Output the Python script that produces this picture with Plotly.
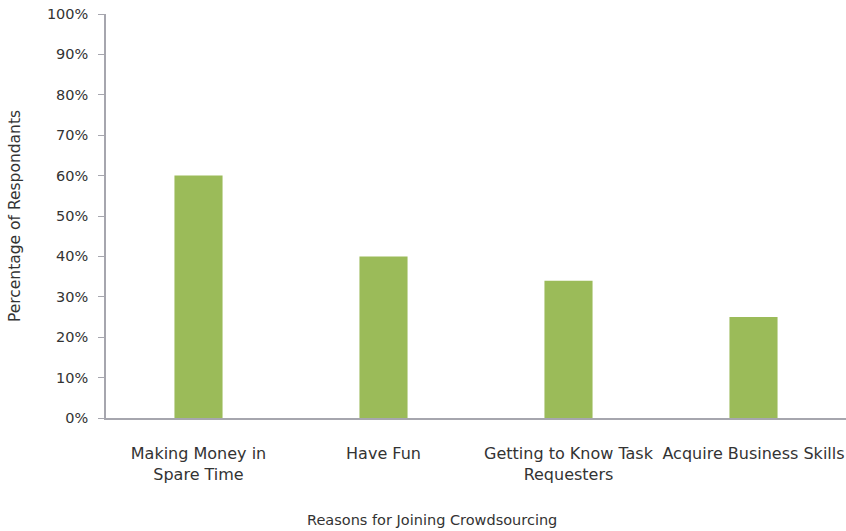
import plotly.graph_objects as go

categories = ["Making Money in<br>Spare Time", "Have Fun", "Getting to Know Task<br>Requesters", "Acquire Business Skills"]
values = [60, 40, 34, 25]
y_ticks = list(range(0, 101, 10))
y_tick_labels = [f"{v}%" for v in y_ticks]
x_title = "Reasons for Joining Crowdsourcing"
y_title = "Percentage of Respondants"

font_family = "DejaVu Sans, sans-serif"

fig = go.Figure(go.Bar(x=categories, y=values, marker=dict(color="#9BBB59", line=dict(width=0)), width=0.26))

fig.update_layout(
    width=846, height=531,
    margin=dict(l=106, r=0, t=14, b=113),
    paper_bgcolor="white", plot_bgcolor="white",
    font=dict(family=font_family, size=14, color="#333333"),
    showlegend=False,
)
fig.update_xaxes(
    showline=True, linecolor="#a6a6ae", linewidth=1.5,
    ticks="outside", ticklen=20, tickcolor="rgba(0,0,0,0)",
    tickfont=dict(size=16),
    showgrid=False,
)
fig.update_yaxes(
    range=[0, 100], tickvals=y_ticks, ticktext=y_tick_labels,
    showline=True, linecolor="#a6a6ae", linewidth=1.5,
    ticks="outside", ticklen=6, tickcolor="#a6a6ae",
    tickfont=dict(size=14.5), ticklabelstandoff=7,
    showgrid=False, zeroline=False,
    title=dict(text=y_title, font=dict(size=15.5), standoff=22),
)
fig.add_annotation(
    text=x_title, xref="paper", yref="paper", x=0.44, y=0,
    yshift=-102, showarrow=False, xanchor="center", yanchor="middle",
    font=dict(size=14.5, color="#333333"),
)

fig.write_html("out.html")
